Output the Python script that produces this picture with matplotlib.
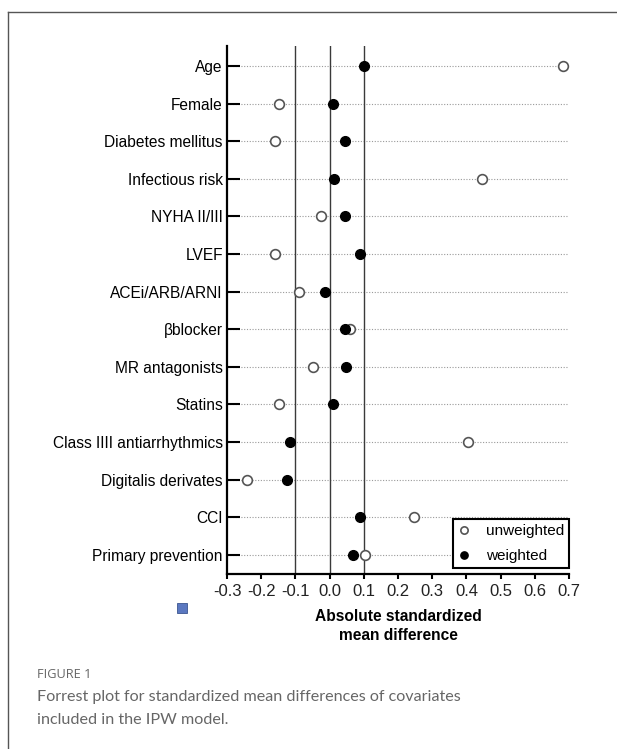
import numpy as np
import matplotlib.pyplot as plt
from matplotlib.lines import Line2D
from matplotlib.patches import Rectangle
plt.rcParams["font.family"] = "Liberation Sans"

covariates = ["Age", "Female", "Diabetes mellitus", "Infectious risk", "NYHA II/III",
              "LVEF", "ACEi/ARB/ARNI", "\u03b2blocker", "MR antagonists", "Statins",
              "Class IIII antiarrhythmics", "Digitalis derivates", "CCI",
              "Primary prevention"]
unweighted = [0.682, -0.149, -0.160, 0.446, -0.026, -0.159, -0.090, 0.060, -0.048,
              -0.147, 0.406, -0.241, 0.248, 0.104]
weighted = [0.101, 0.011, 0.044, 0.014, 0.044, 0.089, -0.013, 0.046, 0.049, 0.009,
            -0.115, -0.124, 0.089, 0.068]
xticks = [-0.3, -0.2, -0.1, 0.0, 0.1, 0.2, 0.3, 0.4, 0.5, 0.6, 0.7]
ref_lines = [-0.1, 0.0, 0.1]

W, H = 617, 749
fig = plt.figure(figsize=(W / 100, H / 100), dpi=100)
ax = fig.add_axes([227 / W, 1 - 574 / H, (569 - 227) / W, (574 - 46) / H])

ypos = np.arange(len(covariates))
ax.hlines(ypos, -0.3, 0.7, colors="#9a9a9a", linestyles=(0, (1, 1.5)), lw=0.8, zorder=1)
for v in ref_lines:
    ax.axvline(v, color="#3a3a3a", lw=1.0, zorder=2)

ax.plot(unweighted, ypos, "o", ls="none", ms=7, mfc="white", mec="#555555", mew=1.2,
        zorder=3, label="unweighted")
ax.plot(weighted, ypos, "o", ls="none", ms=7, mfc="black", mec="black",
        zorder=4, label="weighted")

ax.set_xlim(-0.3, 0.7)
ax.set_ylim(13.51, -0.53)
ax.set_yticks(ypos)
ax.set_yticklabels(covariates, fontsize=11.2)
ax.set_xticks(xticks)
ax.set_xticklabels(["%.1f" % t for t in xticks], fontsize=12, color="#222222")
ax.tick_params(axis="y", direction="in", length=9.5, width=1.5, pad=3)
ax.tick_params(axis="x", direction="out", length=3.5, width=1.5, pad=4)
for s in ["top", "right"]:
    ax.spines[s].set_visible(False)
for s in ["left", "bottom"]:
    ax.spines[s].set_linewidth(1.6)
ax.set_xlabel("Absolute standardized\nmean difference", fontsize=11.2,
              fontweight="bold", labelpad=7, linespacing=1.35)

leg = ax.legend(loc="lower right", bbox_to_anchor=(1.0, 6 / 528), fancybox=False,
                edgecolor="black", framealpha=1, fontsize=11, markerscale=0.75,
                handlelength=0.9, handletextpad=1.0, borderpad=0.3,
                labelspacing=0.75, borderaxespad=0)
leg.get_frame().set_linewidth(1.5)

# small blue square artifact
fig.patches.append(Rectangle((177 / W, 1 - 613 / H), 10 / W, 10 / H,
                             transform=fig.transFigure, facecolor="#5b78c0",
                             edgecolor="#3b5590", lw=0.6))

# panel frame
fig.add_artist(Line2D([8 / W, 1], [1 - 12 / H, 1 - 12 / H], color="#555555", lw=1.0))
fig.add_artist(Line2D([8 / W, 8 / W], [0, 1 - 12 / H], color="#555555", lw=1.0))

fig.text(37 / W, 1 - 675 / H, "FIGURE 1", fontsize=9.2, color="#666666",
         family="Open Sans", va="center")
fig.text(37 / W, 1 - 697 / H, "Forrest plot for standardized mean differences of covariates",
         fontsize=11.6, color="#666666", family="Lato", va="center")
fig.text(37 / W, 1 - 720 / H, "included in the IPW model.",
         fontsize=11.6, color="#666666", family="Lato", va="center")

fig.savefig("out.png", dpi=100)
